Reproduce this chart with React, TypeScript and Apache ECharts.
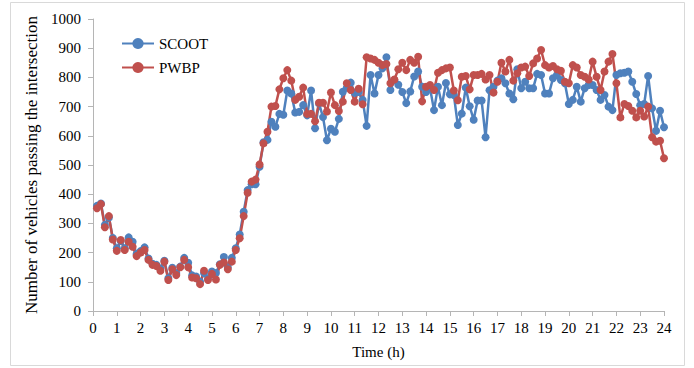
import React, { useEffect, useRef } from "react";
import * as echarts from "echarts";

// Sampling: one value every 10 minutes, from 0:10 to 24:00
const STEP_MINUTES = 10;

const xTicks = ["0","1","2","3","4","5","6","7","8","9","10","11","12","13","14","15","16","17","18","19","20","21","22","23","24"];

const SCOOT = [
  360, 368, 295, 320, 250, 215, 240, 215, 252, 237, 195, 205, 218, 180, 162, 158, 145, 172,
  112, 148, 130, 152, 182, 165, 122, 118, 100, 130, 112, 135, 130, 160, 185, 150, 182, 215,
  262, 340, 414, 434, 434, 494, 578, 586, 648, 631, 675, 672, 755, 745, 680, 682, 705, 670,
  755, 626, 711, 664, 585, 624, 614, 658, 751, 765, 782, 747, 750, 723, 634, 808, 745, 808,
  831, 869, 757, 790, 775, 750, 712, 752, 803, 820, 768, 750, 763, 688, 768, 705, 781, 742,
  740, 637, 676, 765, 701, 655, 721, 721, 595, 756, 768, 789, 797, 780, 745, 725, 828, 763,
  785, 763, 763, 812, 808, 745, 745, 797, 808, 791, 780, 709, 723, 768, 717, 763, 774, 774,
  757, 723, 740, 700, 688, 808, 814, 816, 820, 785, 743, 705, 709, 805, 694, 617, 686, 629
];

const PWBP = [
  352, 366, 287, 325, 245, 206, 243, 209, 237, 220, 188, 200, 209, 175, 158, 154, 138, 169,
  106, 143, 123, 150, 175, 150, 115, 112, 92, 138, 106, 127, 108, 158, 166, 143, 169, 209,
  249, 325, 405, 443, 450, 502, 574, 614, 700, 702, 759, 797, 825, 789, 723, 734, 765, 675,
  675, 650, 713, 713, 683, 748, 705, 685, 717, 780, 757, 717, 761, 708, 869, 865, 860, 850,
  842, 846, 780, 793, 828, 850, 825, 860, 850, 871, 718, 768, 774, 757, 816, 825, 831, 834,
  755, 722, 802, 805, 759, 808, 808, 812, 793, 808, 748, 785, 850, 820, 860, 789, 814, 834,
  837, 805, 848, 865, 894, 842, 834, 839, 828, 823, 785, 780, 842, 834, 808, 802, 793, 854,
  802, 757, 820, 854, 880, 780, 663, 709, 702, 686, 663, 686, 666, 700, 595, 580, 583, 523
];

const toPairs = (vals: number[]) =>
  vals.map((v, i) => [((i + 1) * STEP_MINUTES) / 60, v]);

const FONT = "'Liberation Serif', 'Times New Roman', serif";

export default function App() {
  const ref = useRef<HTMLDivElement>(null);
  useEffect(() => {
    if (!ref.current) return;
    const chart = echarts.init(ref.current, null, { renderer: "svg" });
    const txt = { fontFamily: FONT, fontSize: 15, color: "#000", fontWeight: "normal" as const };
    chart.setOption({
      animation: false,
      backgroundColor: "#ffffff",
      textStyle: { fontFamily: FONT },
      graphic: [
        {
          type: "rect",
          shape: { x: 10.5, y: 2.5, width: 674, height: 363 },
          style: { fill: "none", stroke: "#d9d9d9", lineWidth: 1 },
          silent: true,
        },
      ],
      grid: { left: 93, right: 30, top: 19, bottom: 57, containLabel: false },
      legend: {
        orient: "vertical",
        left: 116,
        top: 31,
        itemWidth: 32,
        itemHeight: 14,
        itemGap: 9,
        textStyle: { ...txt },
        data: ["SCOOT", "PWBP"],
      },
      xAxis: {
        type: "value",
        min: 0,
        max: 24,
        interval: 1,
        name: "Time (h)",
        nameLocation: "middle",
        nameGap: 33,
        nameTextStyle: { ...txt },
        axisLine: { show: true, lineStyle: { color: "#b5b5b5", width: 1 } },
        axisTick: { show: true, length: 5, lineStyle: { color: "#b5b5b5" } },
        axisLabel: {
          ...txt,
          margin: 9,
          formatter: (v: number) => xTicks[Math.round(v)] ?? "",
        },
        splitLine: { show: false },
      },
      yAxis: {
        type: "value",
        min: 0,
        max: 1000,
        interval: 100,
        name: "Number of vehicles passing the intersection",
        nameLocation: "middle",
        nameGap: 48,
        nameTextStyle: { ...txt, fontSize: 17 },
        axisLine: { show: true, lineStyle: { color: "#b5b5b5", width: 1 } },
        axisTick: { show: true, length: 5, lineStyle: { color: "#b5b5b5" } },
        axisLabel: { ...txt, margin: 12, formatter: (v: number) => String(v) },
        splitLine: { show: false },
      },
      series: [
        {
          name: "SCOOT",
          type: "line",
          data: toPairs(SCOOT),
          symbol: "circle",
          symbolSize: 8,
          color: "#4F81BD",
          lineStyle: { width: 2.5, color: "#4F81BD" },
          itemStyle: { color: "#4F81BD" },
        },
        {
          name: "PWBP",
          type: "line",
          data: toPairs(PWBP),
          symbol: "circle",
          symbolSize: 8,
          color: "#C0504D",
          lineStyle: { width: 2.5, color: "#C0504D" },
          itemStyle: { color: "#C0504D" },
        },
      ],
    });
    return () => chart.dispose();
  }, []);
  return (
    <div
      ref={ref}
      style={{ position: "absolute", left: 0, top: 0, width: 694, height: 368 }}
    />
  );
}
